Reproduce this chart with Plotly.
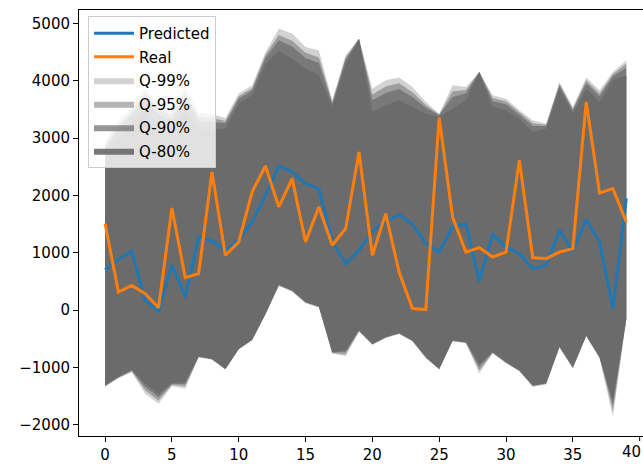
import plotly.graph_objects as go

x = list(range(40))

predicted = [705, 880, 1030, 170, -20, 780, 230, 1275, 1205, 1040, 1215, 1535, 2000, 2513, 2410, 2205, 2120, 1190, 810, 1040,
             1380, 1540, 1665, 1500, 1160, 1010, 1450, 1505, 500, 1320, 1100, 985, 720, 780, 1390, 1030, 1580, 1190, 25, 1950]
real = [1508, 315, 430, 285, 40, 1780, 565, 635, 2410, 955, 1187, 2060, 2513, 1800, 2293, 1187, 1800, 1130, 1420, 2758,
        955, 1683, 663, 25, 7, 3358, 1623, 1012, 1089, 925, 1012, 2613, 915, 897, 1012, 1072, 3631, 2042, 2119, 1536]

q99_upper = [2950, 3300, 3550, 3870, 3600, 3500, 3880, 3450, 3420, 3350, 3780, 3920, 4500, 4910, 4825, 4590, 4530, 3660, 4446, 4737,
             3865, 4010, 4057, 3893, 3631, 3428, 3922, 3893, 4154, 3747, 3690, 3486, 3311, 3250, 3980, 3543, 4057, 3835, 4154, 4358]
q95_upper = [2870, 3220, 3470, 3770, 3500, 3400, 3780, 3370, 3350, 3300, 3730, 3870, 4450, 4800, 4700, 4490, 4410, 3630, 4410, 4737,
             3760, 3900, 3960, 3800, 3580, 3415, 3820, 3840, 4154, 3700, 3640, 3450, 3260, 3230, 3950, 3515, 4010, 3780, 4120, 4300]
q90_upper = [2800, 3150, 3400, 3680, 3420, 3320, 3690, 3300, 3280, 3260, 3690, 3830, 4400, 4710, 4600, 4400, 4310, 3600, 4370, 4737,
             3660, 3790, 3860, 3720, 3530, 3400, 3720, 3780, 4154, 3645, 3590, 3410, 3210, 3210, 3920, 3485, 3960, 3730, 4080, 4230]
q80_upper = [2650, 3000, 3250, 3500, 3250, 3150, 3500, 3150, 3150, 3170, 3607, 3747, 4300, 4520, 4388, 4213, 4097, 3543, 4300, 4737,
             3456, 3573, 3660, 3543, 3428, 3369, 3515, 3660, 4154, 3543, 3486, 3341, 3107, 3166, 3865, 3428, 3865, 3631, 4010, 4097]

q80_lower = [-1314, -1169, -1041, -1285, -1460, -1274, -1257, -808, -849, -1023, -674, -517, -63, 443, 344, 140, 65, -733, -703, -354,
             -587, -471, -401, -529, -820, -1023, -529, -558, -936, -733, -908, -1052, -1314, -1274, -634, -995, -441, -820, -1576, -150]
q90_lower = [-1320, -1175, -1055, -1340, -1520, -1290, -1290, -815, -855, -1028, -680, -521, -68, 436, 337, 134, 59, -740, -730, -362,
             -594, -477, -407, -535, -826, -1028, -535, -565, -990, -740, -915, -1057, -1320, -1281, -641, -1002, -447, -826, -1660, -156]
q95_lower = [-1330, -1182, -1070, -1400, -1580, -1310, -1330, -822, -862, -1034, -685, -525, -74, 428, 328, 127, 52, -750, -770, -371,
             -602, -484, -414, -542, -833, -1034, -542, -572, -1050, -750, -922, -1063, -1330, -1290, -650, -1011, -453, -833, -1760, -163]
q99_lower = [-1340, -1190, -1090, -1460, -1634, -1330, -1373, -830, -870, -1040, -690, -530, -80, 420, 320, 120, 45, -760, -808, -380,
             -610, -490, -420, -550, -840, -1040, -550, -580, -1110, -760, -930, -1070, -1340, -1300, -660, -1020, -460, -840, -1868, -170]

x_ticks = [0, 5, 10, 15, 20, 25, 30, 35]
x_last_tick = 40
y_ticks = [-2000, -1000, 0, 1000, 2000, 3000, 4000, 5000]

bands = [
    ("Q-99%", q99_upper, q99_lower, 0.3),
    ("Q-95%", q95_upper, q95_lower, 0.5),
    ("Q-90%", q90_upper, q90_lower, 0.7),
    ("Q-80%", q80_upper, q80_lower, 0.9),
]

FONT = "DejaVu Sans"
FS = 15
fig = go.Figure()

for i, (name, up, lo, a) in enumerate(bands):
    fig.add_trace(go.Scatter(
        x=x + x[::-1], y=up + lo[::-1], fill="toself",
        fillcolor=f"rgba(105,105,105,{a})", line=dict(width=0),
        mode="lines", name=name, legendrank=3 + i, legendgroup=name, hoverinfo="skip"))

fig.add_trace(go.Scatter(x=x, y=predicted, mode="lines", name="Predicted", legendgroup="Predicted",
                         line=dict(color="#1f77b4", width=3), legendrank=1))
fig.add_trace(go.Scatter(x=x, y=real, mode="lines", name="Real", legendgroup="Real",
                         line=dict(color="#ff7f0e", width=3), legendrank=2))

fig.update_layout(
    width=643, height=464,
    margin=dict(l=79, r=0, t=10, b=28),
    plot_bgcolor="white", paper_bgcolor="white",
    font=dict(family=FONT, size=FS, color="black"),
    showlegend=True,
    legend=dict(x=0.016, y=0.986, xanchor="left", yanchor="top",
                bgcolor="rgba(255,255,255,0.8)", bordercolor="#cccccc", borderwidth=1,
                font=dict(family=FONT, size=FS), tracegroupgap=1, itemwidth=40,
                groupclick="toggleitem"),
    xaxis=dict(range=[-1.95, 40.25], tickmode="array", tickvals=x_ticks,
               showgrid=False, zeroline=False, showline=True, linecolor="black", linewidth=1,
               mirror=True, ticks="outside", ticklen=5, tickcolor="black", tickwidth=1),
    yaxis=dict(range=[-2199, 5237], tickmode="array", tickvals=y_ticks,
               showgrid=False, zeroline=False, showline=True, linecolor="black", linewidth=1,
               ticks="outside", ticklen=5, tickcolor="black", tickwidth=1),
)

# last x tick at the figure's right edge: tick mark as a short line, label kept inside the page
fig.add_shape(type="line", xref="x", yref="paper", x0=x_last_tick, x1=x_last_tick, y0=0, y1=-5 / 426,
              line=dict(color="black", width=1))
fig.add_annotation(x=1, y=0, xref="paper", yref="paper", xanchor="right", yanchor="top", yshift=-5,
                   text=str(x_last_tick), showarrow=False, font=dict(family=FONT, size=FS, color="black"))

fig.write_html("out.html")
